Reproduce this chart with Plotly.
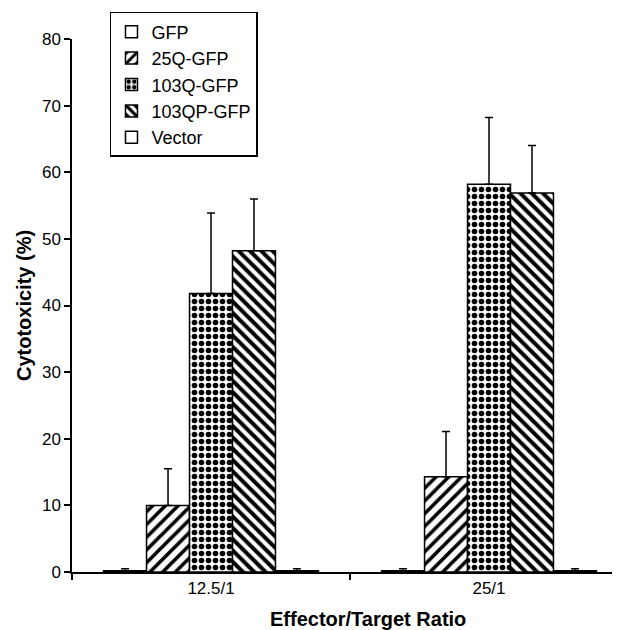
import plotly.graph_objects as go

categories = ["12.5/1", "25/1"]
series_names = ["GFP", "25Q-GFP", "103Q-GFP", "103QP-GFP", "Vector"]
values = {
    "GFP": [0.2, 0.2],
    "25Q-GFP": [10.0, 14.3],
    "103Q-GFP": [41.8, 58.2],
    "103QP-GFP": [48.2, 56.9],
    "Vector": [0.2, 0.2],
}
errors = {
    "GFP": [0.3, 0.3],
    "25Q-GFP": [5.5, 6.8],
    "103Q-GFP": [12.1, 10.0],
    "103QP-GFP": [7.8, 7.1],
    "Vector": [0.3, 0.3],
}
x_title = "Effector/Target Ratio"
y_title = "Cytotoxicity (%)"

patterns = {
    "GFP": dict(shape=""),
    "25Q-GFP": dict(shape="/", size=9, solidity=0.4, fgcolor="black", bgcolor="white", fgopacity=1),
    "103Q-GFP": dict(shape=".", size=7, solidity=0.5, fgcolor="black", bgcolor="white", fgopacity=1),
    "103QP-GFP": dict(shape="\\", size=8, solidity=0.5, fgcolor="black", bgcolor="white", fgopacity=1),
    "Vector": dict(shape=""),
}

font_family = "Liberation Sans, Arial, sans-serif"
fig = go.Figure()
for name in series_names:
    fig.add_trace(go.Bar(
        name=name,
        x=categories,
        y=values[name],
        marker=dict(color="white", line=dict(color="black", width=1.5),
                    pattern=patterns[name]),
        error_y=dict(type="data", array=errors[name], arrayminus=[0, 0],
                     symmetric=False, color="black", thickness=1.5, width=4),
    ))

fig.add_annotation(
    text="<b>" + x_title + "</b>", xref="paper", yref="paper",
    x=0.5397, y=-0.088, xanchor="center", yanchor="middle",
    showarrow=False, font=dict(size=20, family=font_family, color="black"),
)

fig.update_layout(
    width=612, height=622,
    paper_bgcolor="white", plot_bgcolor="white",
    margin=dict(l=64, r=0, t=31, b=58, autoexpand=False),
    barmode="group", bargap=0.227, bargroupgap=0,
    font=dict(family=font_family, size=17, color="black"),
    showlegend=True,
    legend=dict(x=0.0693, y=1.0507, xanchor="left", yanchor="top",
                bgcolor="white", bordercolor="black", borderwidth=1.5,
                font=dict(size=18), tracegroupgap=0, itemwidth=30),
    xaxis=dict(
        range=[-0.5, 1.4712],
        showline=True, linecolor="black", linewidth=1.5,
        ticks="outside", tickson="boundaries", ticklen=6, tickcolor="black",
        tickwidth=1.5, showgrid=False, automargin=False,
    ),
    yaxis=dict(
        title=dict(text="<b>" + y_title + "</b>", font=dict(size=20), standoff=5),
        range=[0, 80], dtick=10, showline=True, linecolor="black", linewidth=1.5,
        ticks="outside", ticklen=6, tickcolor="black", tickwidth=1.5,
        showgrid=False, zeroline=False, automargin=False,
    ),
)

fig.write_html("out.html")
